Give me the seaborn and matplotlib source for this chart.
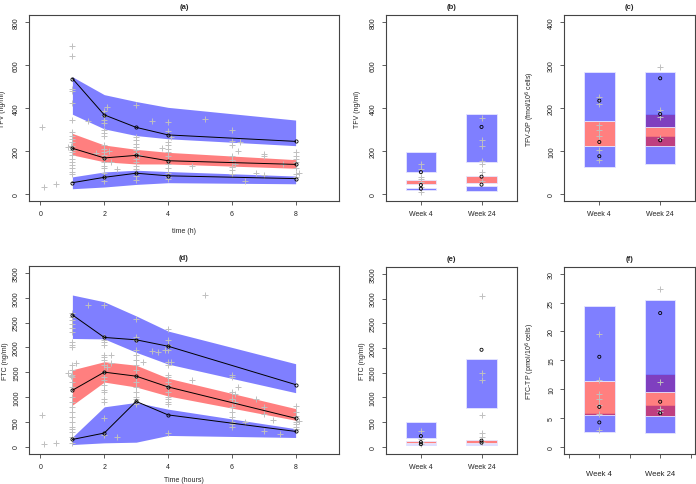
import numpy as np
import matplotlib
matplotlib.use("Agg")
import matplotlib.pyplot as plt
import seaborn as sns

sns.set_style("ticks")
plt.rcParams['font.family'] = ['Liberation Sans', 'DejaVu Sans']

# 时间分箱 (h)
time_bins = [1, 2, 3, 4, 8]

# TFV 血浆 VPC: 观测分位数
tfv_q05 = [53, 78, 97, 85, 72]
tfv_q50 = [213, 168, 180, 155, 138]
tfv_q95 = [537, 368, 310, 275, 245]
# 预测区间 (下沿, 上沿)
tfv_lo_pi = ([25, 33, 45, 53, 48], [80, 103, 111, 105, 84])
tfv_med_pi = ([182, 150, 140, 140, 120], [282, 228, 208, 194, 160])
tfv_hi_pi = ([371, 303, 272, 257, 225], [545, 462, 430, 403, 344])

# TFV 观测值
tfv_obs_t = [0.05, 0.1, 0.5, 0.85, 0.95,
             1, 1, 1, 1, 1, 1, 1, 1, 1, 1, 1, 1, 1, 1, 1, 1, 1, 1, 1, 1,
             1.5, 1.75,
             2, 2, 2, 2, 2, 2, 2, 2, 2, 2, 2, 2, 2, 2, 2, 2, 2, 2,
             2.1, 2.15, 2.2, 2.4,
             3, 3, 3, 3, 3, 3, 3, 3, 3, 3, 3, 3, 3, 3,
             3.5, 3.8, 3.1,
             4, 4, 4, 4, 4, 4, 4, 4, 4, 4, 4, 4, 4,
             4.1, 4.75, 5.15,
             6, 6, 6, 6, 6, 6, 6, 6, 6.1, 6.2, 6.25, 6.4, 6.75, 7, 7, 7, 7.6,
             8, 8, 8, 8, 8, 8, 8, 8.1]
tfv_obs_c = [310, 35, 45, 220, 225,
             690, 640, 490, 478, 425, 345, 290, 270, 255, 240, 225, 205, 195, 180, 165, 150, 135, 120, 105, 95,
             340, 190,
             385, 365, 345, 330, 300, 285, 270, 230, 210, 195, 180, 165, 150, 130, 120, 100, 80, 60,
             405, 200, 150, 115,
             412, 265, 250, 235, 220, 205, 190, 165, 150, 130, 115, 100, 85, 65,
             340, 215, 180,
             335, 295, 240, 230, 210, 195, 175, 160, 140, 120, 100, 80, 70,
             265, 130, 350,
             300, 245, 230, 175, 160, 125, 110, 95, 140, 200, 240, 60, 100, 185, 175, 90, 140,
             195, 175, 165, 150, 120, 95, 80, 100]

# FTC 血浆 VPC
ftc_q05 = [143, 272, 910, 638, 305]
ftc_q50 = [1134, 1500, 1419, 1202, 570]
ftc_q95 = [2654, 2200, 2152, 2023, 1249]
ftc_lo_pi = ([41, 75, 88, 224, 183], [190, 801, 890, 754, 360])
ftc_med_pi = ([835, 1300, 1200, 1020, 530], [1548, 1710, 1640, 1378, 765])
ftc_hi_pi = ([2179, 2170, 1900, 1663, 1086], [3055, 2919, 2634, 2329, 1670])

ftc_obs_t = [0.05, 0.1, 0.5, 0.85, 0.95,
             1, 1, 1, 1, 1, 1, 1, 1, 1, 1, 1, 1, 1, 1, 1, 1, 1, 1, 1, 1, 1, 1, 1, 1, 1, 1,
             1.1, 1.5,
             2, 2, 2, 2, 2, 2, 2, 2, 2, 2, 2, 2, 2, 2, 2, 2, 2, 2, 2,
             2.1, 2.2, 2.2, 2.4,
             3, 3, 3, 3, 3, 3, 3, 3, 3, 3, 3, 3, 3, 3, 3, 3,
             3.2, 3.5, 3.7,
             4, 4, 4, 4, 4, 4, 4, 4, 4, 4, 4, 4, 4, 4, 4, 4, 4,
             4.1, 3.9, 4.75, 5.15,
             6, 6, 6, 6, 6, 6, 6, 6, 6, 6, 6.2, 6.1, 6.1, 6.4,
             6.75, 7, 7, 7, 7.5, 7.3,
             8, 8, 8, 8, 8, 8, 8, 8.1]
ftc_obs_c = [640, 50, 70, 1490, 1420,
             2700, 2620, 2550, 2480, 2400, 2300, 2100, 2050, 2000, 1650, 1550, 1450, 1400, 1300, 1200,
             1000, 900, 800, 700, 600, 500, 400, 350, 300, 200, 80,
             1680, 2850,
             2850, 2200, 2150, 2100, 2050, 1850, 1800, 1750, 1650, 1500, 1400, 1350, 1250, 1150, 1100,
             950, 900, 570, 230,
             1600, 1850, 1680, 200,
             2580, 2200, 2150, 1950, 1850, 1750, 1650, 1550, 1400, 1300, 1200, 1100, 1000, 950, 900, 850,
             1700, 1920, 1900,
             2380, 2150, 2050, 1950, 1700, 1650, 1450, 1400, 1300, 1250, 1200, 1100, 1000, 950, 900,
             850, 280,
             1700, 1950, 1340, 3050,
             1450, 1400, 1100, 950, 800, 700, 600, 500, 450, 400, 1200, 1050, 900, 500,
             950, 800, 320, 650, 250, 530,
             810, 700, 620, 500, 450, 400, 350, 520]

# 周次箱图
weeks = ["Week 4", "Week 24"]

tfv_box_lo = ([17, 14], [30, 38])
tfv_box_med = ([45, 53], [66, 85])
tfv_box_hi = ([105, 147], [197, 371])
tfv_wk_circ = ([25, 42, 102], [44, 81, 312])
tfv_wk_plus = ([140, 115, 80, 70, 55, 35, 12], [354, 252, 222, 155, 139, 105, 60])

tfvdp_box_lo = ([63, 69], [112, 134])
tfvdp_box_med = ([112, 112], [169, 186])
tfvdp_box_hi = ([169, 157], [283, 284])
tfvdp_wk_circ = ([88, 121, 217], [125, 186, 269])
tfvdp_wk_plus = ([225, 210, 160, 148, 135, 102, 80], [295, 195, 180, 130])

ftc_box_lo = ([27, 34], [54, 54])
ftc_box_med = ([75, 68], [109, 143])
ftc_box_hi = ([177, 781], [496, 1772])
ftc_wk_circ = ([49, 90, 212], [80, 120, 1962])
ftc_wk_plus = ([310, 150, 100, 60], [3050, 1490, 1350, 640, 270, 200, 100])

ftctp_box_lo = ([2.5, 2.4], [5.9, 7.3])
ftctp_box_med = ([5.5, 5.4], [11.4, 12.6])
ftctp_box_hi = ([11.4, 9.5], [24.5, 25.5])
ftctp_wk_circ = ([4.2, 6.9, 15.6], [5.8, 7.8, 23.2])
ftctp_wk_plus = ([19.6, 11.5, 9.2, 8.2, 7.2, 5.7, 2.8], [27.3, 11.3, 6.6, 6.0])

BLUE = (0, 0, 1, 0.5)
RED = (1, 0, 0, 0.5)
GREY = '#c0c0c0'
AXC = '#444444'
FS = 5


def style_axis(ax, ylim, yticks, title):
    ax.set_ylim(ylim)
    ax.set_yticks(yticks)
    ax.set_title(title, fontsize=5.5, fontweight='bold', pad=5)
    for s in ax.spines.values():
        s.set_color(AXC)
        s.set_linewidth(0.8)
    ax.tick_params(direction='out', length=3, width=0.6, colors=AXC,
                   labelsize=FS, labelcolor='#222222')
    ax.tick_params(axis='y', labelrotation=90)
    for lab in ax.get_yticklabels():
        lab.set_va('center')


def vpc_panel(ax, lo_pi, med_pi, hi_pi, q05, q50, q95, obs_t, obs_c):
    # 先画下区间、中位区间，再画上区间
    for band, col in ((lo_pi, BLUE), (med_pi, RED), (hi_pi, BLUE)):
        ax.fill_between(time_bins, band[0], band[1], color=col, lw=0)
    sns.scatterplot(x=obs_t, y=obs_c, marker='+', color=GREY, s=22,
                    linewidth=0.7, ax=ax, zorder=3)
    for q in (q05, q50, q95):
        sns.lineplot(x=time_bins, y=q, color='black', lw=0.7, marker='o',
                     markersize=2.3, mfc='none', mec='black', mew=0.6, ax=ax, zorder=4)
    ax.set_xlim(-0.36, 9.36)
    ax.set_xticks([0, 2, 4, 6, 8])


def box_panel(ax, lo, med, hi, circ, plus):
    pos = np.arange(1, len(weeks) + 1)
    for box, col in ((lo, BLUE), (med, RED), (hi, BLUE)):
        b = np.array(box[0], dtype=float)
        t = np.array(box[1], dtype=float)
        ax.bar(pos, t - b, bottom=b, width=0.5, color=col,
               edgecolor=(0.9, 0.9, 1.0), linewidth=0.6)
    px = np.concatenate([[p] * len(v) for p, v in zip(pos, plus)])
    py = np.concatenate(plus)
    sns.scatterplot(x=px, y=py, marker='+', color=GREY, s=22,
                    linewidth=0.7, ax=ax, zorder=3)
    cx = np.concatenate([[p] * len(v) for p, v in zip(pos, circ)])
    cy = np.concatenate(circ)
    sns.scatterplot(x=cx, y=cy, marker='o', color='none', edgecolor='black',
                    s=5, linewidth=0.6, ax=ax, zorder=4)
    ax.set_xlim(0.42, 2.58)
    ax.set_xticks(pos)
    ax.set_xticklabels(weeks)


fig = plt.figure(figsize=(6.96, 4.85), dpi=100)
W, H = 696, 485


def add_ax(left, top, right, bottom):
    return fig.add_axes([left / W, 1 - bottom / H, (right - left) / W, (bottom - top) / H])


ax_a = add_ax(29, 16, 339, 202)
ax_b = add_ax(385.7, 16, 516.7, 202)
ax_c = add_ax(564, 16, 695.5, 202)
ax_d = add_ax(29, 267, 339, 454.5)
ax_e = add_ax(385.7, 268, 516.7, 454.5)
ax_f = add_ax(564, 268, 695.5, 454.5)

# (a)
vpc_panel(ax_a, tfv_lo_pi, tfv_med_pi, tfv_hi_pi, tfv_q05, tfv_q50, tfv_q95, tfv_obs_t, tfv_obs_c)
style_axis(ax_a, (-32, 832), range(0, 801, 200), '(a)')
ax_a.set_xlabel('time (h)', fontsize=FS, labelpad=7)
ax_a.set_ylabel('TFV (ng/ml)', fontsize=FS, labelpad=5)

# (b)
box_panel(ax_b, tfv_box_lo, tfv_box_med, tfv_box_hi, tfv_wk_circ, tfv_wk_plus)
style_axis(ax_b, (-32, 832), range(0, 801, 200), '(b)')
ax_b.set_ylabel('TFV (ng/ml)', fontsize=FS, labelpad=6)

# (c)
box_panel(ax_c, tfvdp_box_lo, tfvdp_box_med, tfvdp_box_hi, tfvdp_wk_circ, tfvdp_wk_plus)
style_axis(ax_c, (-16, 416), range(0, 401, 100), '(c)')
ax_c.set_ylabel('TFV-DP (fmol/10$^{6}$ cells)', fontsize=FS, labelpad=8)

# (d)
vpc_panel(ax_d, ftc_lo_pi, ftc_med_pi, ftc_hi_pi, ftc_q05, ftc_q50, ftc_q95, ftc_obs_t, ftc_obs_c)
style_axis(ax_d, (-140, 3640), range(0, 3501, 500), '(d)')
ax_d.set_xlabel('Time (hours)', fontsize=FS, labelpad=5)
ax_d.set_ylabel('FTC (ng/ml)', fontsize=FS, labelpad=3)

# (e)
box_panel(ax_e, ftc_box_lo, ftc_box_med, ftc_box_hi, ftc_wk_circ, ftc_wk_plus)
style_axis(ax_e, (-140, 3640), range(0, 3501, 500), '(e)')
ax_e.set_ylabel('FTC (ng/ml)', fontsize=FS, labelpad=3)

# (f)
box_panel(ax_f, ftctp_box_lo, ftctp_box_med, ftctp_box_hi, ftctp_wk_circ, ftctp_wk_plus)
style_axis(ax_f, (-1.2, 31.2), range(0, 31, 5), '(f)')
ax_f.set_xticks([0.5, 1, 1.5, 2, 2.5])
ax_f.set_xticklabels(['', 'Week 4', '', 'Week 24', ''])
ax_f.tick_params(axis='x', labelsize=5.5, pad=9)
ax_f.set_ylabel('FTC-TP (pmol/10$^{6}$ cells)', fontsize=FS, labelpad=8)

fig.savefig('out.png', dpi=100, facecolor='white')
